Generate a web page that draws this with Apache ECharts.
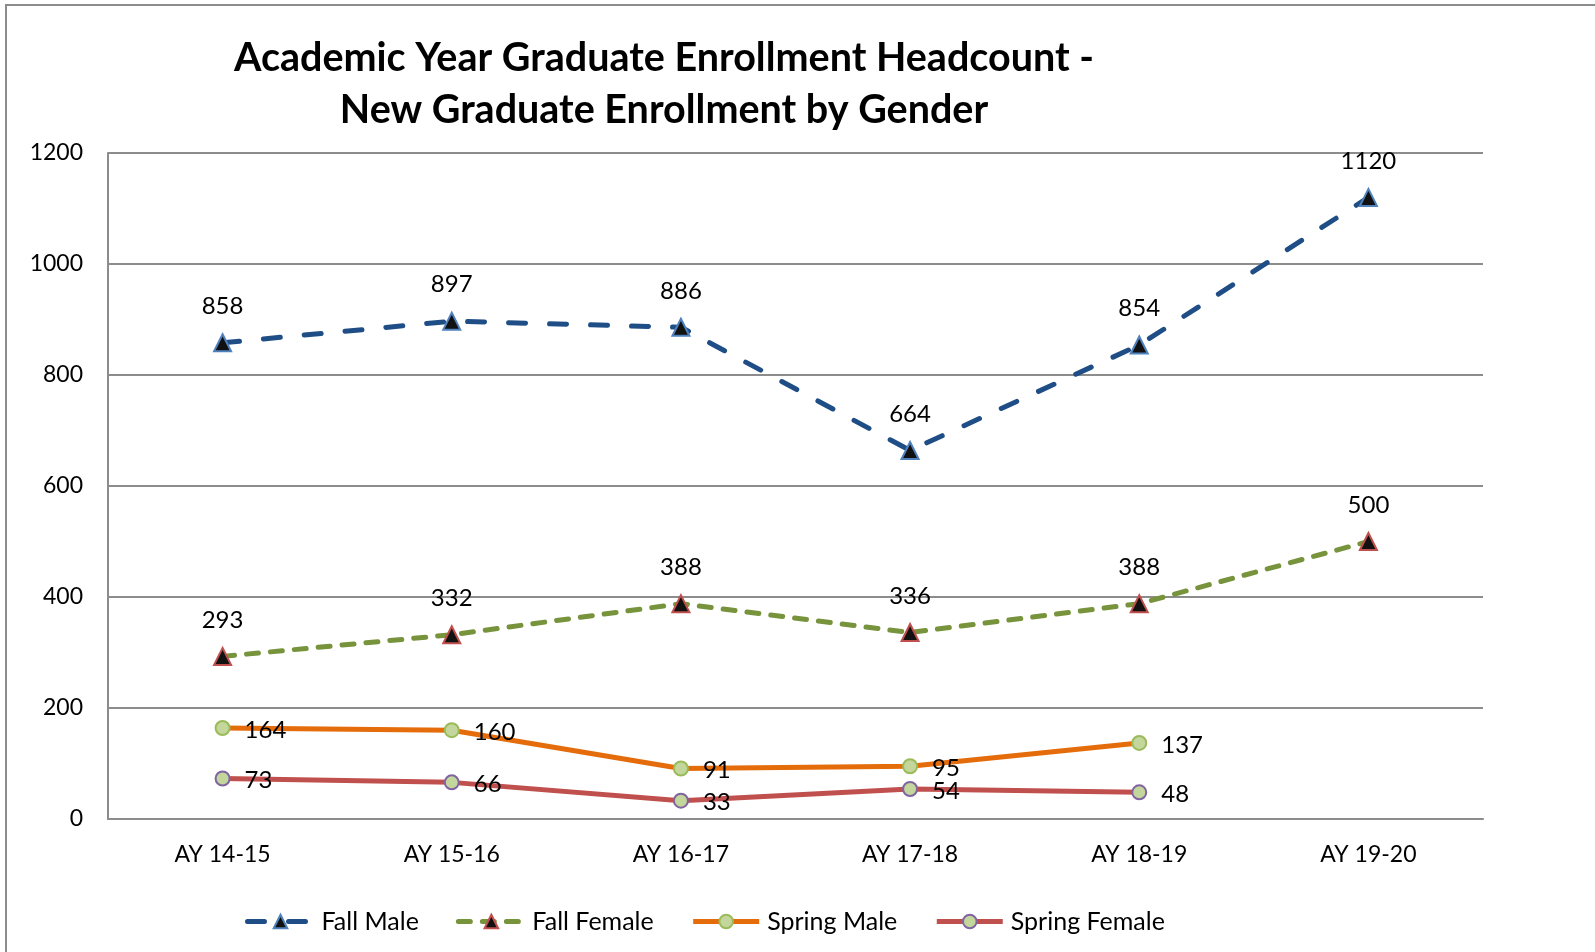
<!DOCTYPE html>
<html>
<head>
<meta charset="utf-8">
<script src="https://cdn.jsdelivr.net/npm/echarts@6/dist/echarts.min.js"></script>
<style>
html,body{margin:0;padding:0;background:#fff;}
#chart{width:1595px;height:952px;}
</style>
</head>
<body>
<div id="chart"></div>
<script>
const categories = ['AY 14-15','AY 15-16','AY 16-17','AY 17-18','AY 18-19','AY 19-20'];
const fallMale = [858, 897, 886, 664, 854, 1120];
const fallFemale = [293, 332, 388, 336, 388, 500];
const springMale = [164, 160, 91, 95, 137, null];
const springFemale = [73, 66, 33, 54, 48, null];
const titleText = 'Academic Year Graduate Enrollment Headcount -\nNew Graduate Enrollment by Gender';

const FONT = 'Lato, "Open Sans", sans-serif';
const chart = echarts.init(document.getElementById('chart'));

const topLabel = {show:true, position:'top', distance:15, color:'#000', fontSize:24, fontFamily:FONT};
const rightLabel = {show:true, position:'right', distance:14, offset:[0,2], color:'#000', fontSize:24, fontFamily:FONT};

chart.setOption({
  backgroundColor:'#fff',
  animation:false,
  graphic:[{
    type:'polyline',
    shape:{points:[[6,952],[6,5],[1600,5]]},
    style:{stroke:'#8c8c8c', lineWidth:2, fill:null}
  }],
  title:{
    text:titleText,
    left:659, top:27, textAlign:'center',
    textStyle:{fontFamily:FONT, fontWeight:'bold', fontSize:39.5, lineHeight:52, color:'#000'}
  },
  grid:{left:108, right:112, top:153, bottom:133},
  legend:{
    left:240, top:904,
    itemWidth:66, itemHeight:17, itemGap:37,
    lineStyle:{width:5},
    textStyle:{fontFamily:FONT, fontSize:25, color:'#000', padding:[0,0,0,3]},
    data:['Fall Male','Fall Female','Spring Male','Spring Female']
  },
  xAxis:{
    type:'category', data:categories, boundaryGap:true,
    axisLine:{lineStyle:{color:'#8c8c8c', width:2}},
    axisTick:{show:false},
    axisLabel:{color:'#000', fontSize:23, fontFamily:FONT, margin:24}
  },
  yAxis:{
    type:'value', min:0, max:1200, interval:200,
    axisLine:{show:true, lineStyle:{color:'#8c8c8c', width:2}},
    axisTick:{show:false},
    splitLine:{lineStyle:{color:'#8c8c8c', width:2}},
    axisLabel:{color:'#000', fontSize:23, fontFamily:FONT, margin:25, formatter:function(v){return String(v);}}
  },
  series:[
    {
      name:'Fall Male', type:'line', data:fallMale,
      symbol:'triangle', symbolSize:17,
      itemStyle:{color:'#111', borderColor:'#4f81bd', borderWidth:2},
      lineStyle:{color:'#1f4e86', width:5, type:[17,24], cap:'round'},
      label:topLabel, z:3
    },
    {
      name:'Fall Female', type:'line', data:fallFemale,
      symbol:'triangle', symbolSize:17,
      itemStyle:{color:'#111', borderColor:'#c0504d', borderWidth:2},
      lineStyle:{color:'#77933c', width:5, type:[12,12], cap:'round'},
      label:topLabel, z:3
    },
    {
      name:'Spring Male', type:'line', data:springMale,
      symbol:'circle', symbolSize:14,
      itemStyle:{color:'#c3d69b', borderColor:'#9bbb59', borderWidth:2},
      lineStyle:{color:'#e46c0a', width:5},
      label:rightLabel, z:3
    },
    {
      name:'Spring Female', type:'line', data:springFemale,
      symbol:'circle', symbolSize:14,
      itemStyle:{color:'#c3d69b', borderColor:'#8064a2', borderWidth:2},
      lineStyle:{color:'#c0504d', width:5},
      label:rightLabel, z:3
    }
  ]
});
</script>
</body>
</html>
